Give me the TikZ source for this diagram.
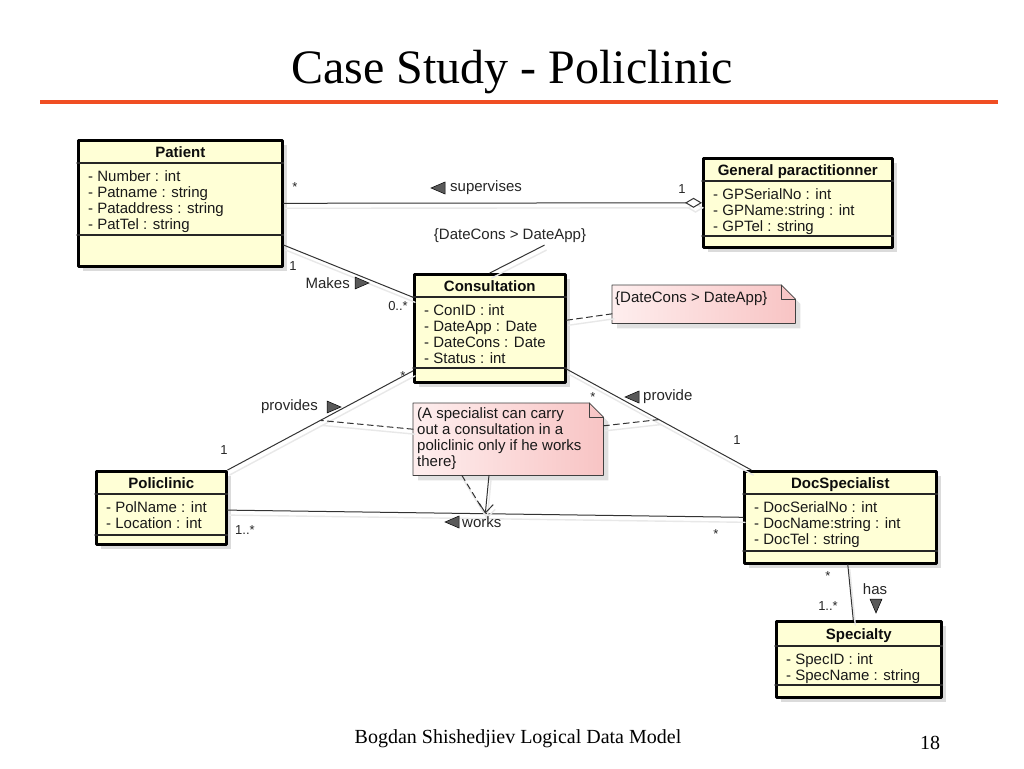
\documentclass[tikz,border=0pt]{standalone}
\usepackage{fontspec}
\setmainfont{Liberation Serif}
\setsansfont{Liberation Sans}
\usetikzlibrary{arrows.meta,shadows}
\definecolor{classfill}{RGB}{255,255,214}
\definecolor{notepink}{RGB}{248,196,196}
\definecolor{notelight}{RGB}{254,238,238}
\definecolor{titlered}{RGB}{240,78,35}
\newcommand{\umlfont}{\sffamily\fontsize{15}{16}\selectfont}
\newcommand{\multfont}{\sffamily\fontsize{13}{15}\selectfont}
% class box: name, corner, width, height, header, second separator, title
\newcommand{\umlclass}[7]{%
  \node[classbox,minimum width=#3pt,minimum height=#4pt] (#1) at #2 {};
  \draw[classsep] ([yshift=-#5pt]#1.north west) -- ([yshift=-#5pt]#1.north east);
  \draw[classsep] ([yshift=-#6pt]#1.north west) -- ([yshift=-#6pt]#1.north east);
  \node[classhead] at ([yshift=-#5pt/2-6.5pt]#1.north) {#7};
}
% attributes: name, header, list
\newcommand{\umlattrs}[3]{%
  \foreach \attr [count=\i] in {#3}
    \node[classattr] at ([xshift=11pt,yshift={-#2pt-18pt-(\i-1)*16pt}]#1.north west) {\attr};
}
% note with folded corner
\newcommand{\umlnote}[1]{%
  \draw[notebox] (#1.north west) -- ([xshift=-14pt]#1.north east) -- ([yshift=-14pt]#1.north east)
    -- (#1.south east) -- (#1.south west) -- cycle;
  \draw[noteline] ([xshift=-14pt]#1.north east) |- ([yshift=-14pt]#1.north east);
}
\tikzset{
  dirtri/.pic={
    \draw[fill=black!65,line width=0.5pt,line join=miter](-7,-6)--(7,0)--(-7,6)--cycle;
  },
  classbox/.style={draw=black,line width=2.6pt,fill=classfill,anchor=north west,inner sep=0pt,
    drop shadow={shadow xshift=5pt,shadow yshift=-5pt,fill=black!14,opacity=1}},
  classsep/.style={draw=black!85,line width=1.2pt},
  classhead/.style={anchor=base,inner sep=0pt,font=\umlfont\bfseries,text=black!95},
  classattr/.style={anchor=base west,inner sep=0pt,font=\umlfont,text=black!90},
  notearea/.style={anchor=north west,inner sep=0pt},
  notebox/.style={draw=black!75,line width=0.8pt,left color=notelight,right color=notepink,
    drop shadow={shadow xshift=5pt,shadow yshift=-5pt,fill=black!12,opacity=1}},
  noteline/.style={draw=black!75,line width=0.8pt},
  lineshadow/.style={preaction={draw=black!9,line width=1.4pt,transform canvas={shift={(2pt,-5pt)}}}},
  assoc/.style={draw=black!80,line width=1pt,lineshadow},
  anchorline/.style={draw=black!80,line width=1pt,dash pattern=on 6pt off 4pt,lineshadow},
  mult/.style={inner sep=0pt,font=\multfont,text=black!85},
  assocname/.style={inner sep=0pt,font=\umlfont,text=black!85}
}

\begin{document}
\begin{tikzpicture}[line cap=round,line join=round,x=1pt,y=-1pt]
    \useasboundingbox[fill=white] (0,0) rectangle (1024,768);

    \node[anchor=base,inner sep=0pt,font=\fontsize{48}{52}\selectfont] (title) at (512,83) {Case Study - Policlinic};
    \draw[titlered,line width=4pt,line cap=butt] (40,102) -- (998,102);

    % Classes
    \umlclass{patient}{(77,139)}{204}{126}{24}{96}{Patient}
    \umlattrs{patient}{24}{- Number : int, - Patname : string, - Pataddress : string, - PatTel : string}
    \umlclass{gp}{(702,157)}{189}{89}{24}{79}{General paractitionner}
    \umlattrs{gp}{24}{- GPSerialNo : int, - GPName:string : int, - GPTel : string}
    \umlclass{consult}{(413,273)}{151}{108}{24}{95}{Consultation}
    \umlattrs{consult}{24}{- ConID : int, - DateApp : Date, - DateCons : Date, - Status : int}
    \umlclass{policlinic}{(95,470)}{130}{73}{24}{65}{Policlinic}
    \umlattrs{policlinic}{24}{- PolName : int, - Location : int}
    \umlclass{doc}{(743,470)}{192}{92}{24}{81}{DocSpecialist}
    \umlattrs{doc}{24}{- DocSerialNo : int, - DocName:string : int, - DocTel : string}
    \umlclass{spec}{(775,620)}{165}{76}{26}{65}{Specialty}
    \umlattrs{spec}{26}{- SpecID : int, - SpecName : string}

    % Notes
    \node[notearea,minimum width=183pt,minimum height=38pt] (note1) at (612,285) {};
    \umlnote{note1}
    \node[classattr] at ([xshift=3pt,yshift=-17pt]note1.north west) {\{DateCons > DateApp\}};
    \node[notearea,minimum width=190pt,minimum height=72pt] (note2) at (413,403) {};
    \umlnote{note2}
    \foreach \ln [count=\i] in {{(A specialist can carry}, out a consultation in a, policlinic only if he works, {there\}}}
        \node[classattr] at ([xshift=4pt,yshift={-15pt-(\i-1)*16pt}]note2.north west) {\ln};
    \node[assocname,inner sep=2pt] (dateconstr) at (510,236) {\{DateCons > DateApp\}};

    % Edges
    \draw[assoc,-{Diamond[fill=white,length=17pt,width=10pt]}] (patient.east) -- (gp.west);
    \foreach \source/\target/\mid in {patient.-22/consult.158/makesmid, consult.209/policlinic.north east/provmid,
        consult.-28.5/doc.152/providemid, policlinic.-2/doc.west/worksmid, doc.-81/spec.98/hasmid} {
            \draw[assoc] (\source) -- (\target) coordinate[pos=0.5] (\mid);
        }
    \draw[assoc] (consult.north) -- (dateconstr.-15);
    \draw[anchorline] (consult.6) -- (note1.186);
    \draw[anchorline] (note2.174) -- (provmid);
    \draw[anchorline] (note2.8) -- (providemid);
    \draw[anchorline] (note2.218) -- (worksmid);
    \draw[assoc,-{Straight Barb[length=9pt,width=14pt]}] (note2.242) -- (worksmid);

    % Multiplicities and names
    \node[mult] at (295,187) {*};
    \node[mult] at (682,189) {1};
    \pic at (438,188) [rotate=180] {dirtri};
    \node[assocname,anchor=west] at (450,188) {supervises};
    \node[mult] at (293,266) {1};
    \node[mult] at (398,306) {0..*};
    \node[assocname,anchor=east] at (350,283) {Makes};
    \pic at (362,283) {dirtri};
    \node[mult] at (403,376) {*};
    \node[mult] at (224,450) {1};
    \node[assocname,anchor=east] at (318,407) {provides};
    \pic at (334,407) {dirtri};
    \node[mult] at (593,397) {*};
    \node[mult] at (737,440) {1};
    \pic at (632,397) [rotate=180] {dirtri};
    \node[assocname,anchor=west] at (643,397) {provide};
    \node[mult] at (245,530) {1..*};
    \node[mult] at (716,534) {*};
    \pic at (452,522) [rotate=180] {dirtri};
    \node[assocname,anchor=west] at (462,522) {works};
    \node[mult] at (828,576) {*};
    \node[mult] at (828,606) {1..*};
    \node[assocname] at (875,589) {has};
    \pic at (876,606) [rotate=-90] {dirtri};

    \node[anchor=base,inner sep=0pt,font=\fontsize{20}{24}\selectfont] (footer) at (518,743) {Bogdan Shishedjiev Logical Data Model};
    \node[anchor=base,inner sep=0pt,font=\fontsize{20}{24}\selectfont] (pageno) at (930,749) {18};
\end{tikzpicture}
\end{document}
